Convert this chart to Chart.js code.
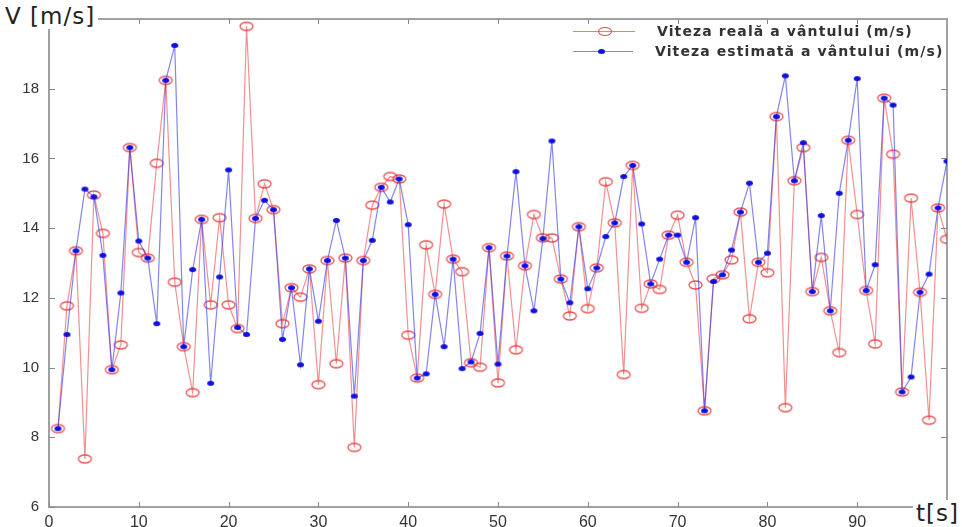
<!DOCTYPE html>
<html>
<head>
<meta charset="utf-8">
<script src="https://cdn.jsdelivr.net/npm/chart.js@4.4.1/dist/chart.umd.min.js"></script>
<style>
  html, body { margin: 0; padding: 0; background: #fff; }
  #wrap { position: relative; width: 962px; height: 527px; overflow: hidden; }
  #chart { position: absolute; left: 0; top: 0; }
  .axlabel { position: absolute; font-family: "DejaVu Sans", sans-serif; font-size: 23px; letter-spacing: 1px; color: #222; background: #fff; line-height: 26px; padding: 0 3px; }
  .leg { position: absolute; font-family: "DejaVu Sans", sans-serif; font-weight: bold; font-size: 14px; letter-spacing: 1.1px; color: #333; white-space: nowrap; }
  .legline { position: absolute; height: 1px; }
  .legmark { position: absolute; border-radius: 50%; box-sizing: border-box; }
</style>
</head>
<body>
<div id="wrap">
  <canvas id="chart" width="962" height="527"></canvas>
  <div class="axlabel" style="left:2px; top:3px;">V [m/s]</div>
  <div class="axlabel" style="left:913px; top:500px;">t[s]</div>

  <div class="legline" style="left:573px; top:31px; width:62px; background:rgba(230,70,70,0.7);"></div>
  <div class="legmark" style="left:598px; top:27px; width:14px; height:9px; border:1.3px solid rgba(230,60,60,0.9); background:transparent;"></div>
  <div class="leg" style="left:657px; top:23px;">Viteza reală a vântului (m/s)</div>

  <div class="legline" style="left:573px; top:51px; width:60px; background:rgba(50,50,230,0.6);"></div>
  <div class="legmark" style="left:598px; top:49px; width:7px; height:5px; background:#1010e0;"></div>
  <div class="leg" style="left:655px; top:43px;">Viteza estimată a vântului (m/s)</div>
</div>
<script>
// measured wind speed (red circles), t = 1..100
const realSpeed = [
  8.25, 11.77, 13.35, 7.38, 14.95, 13.85, 9.94, 10.65, 16.31, 13.3,
  13.14, 15.86, 18.24, 12.45, 10.6, 9.28, 14.25, 11.8, 14.3, 11.8,
  11.12, 19.79, 14.28, 15.27, 14.53, 11.26, 12.29, 12.02, 12.83, 9.51,
  13.07, 10.11, 13.14, 7.71, 13.07, 14.66, 15.17, 15.48, 15.41, 10.93,
  9.7, 13.52, 12.1, 14.69, 13.11, 12.75, 10.14, 10.01, 13.44, 9.56,
  13.2, 10.51, 12.92, 14.39, 13.72, 13.72, 12.54, 11.48, 14.04, 11.69,
  12.86, 15.33, 14.15, 9.8, 15.8, 11.7, 12.4, 12.24, 13.8, 14.37,
  13.02, 12.37, 8.76, 12.55, 12.66, 13.09, 14.46, 11.4, 13.02, 12.72,
  17.2, 8.85, 15.36, 16.31, 12.18, 13.16, 11.63, 10.43, 16.52, 14.39,
  12.21, 10.68, 17.73, 16.12, 9.3, 14.86, 12.16, 8.49, 14.58, 13.68
];

// estimated wind speed (blue dots)
const estSpeed = [
  8.25, 10.95, 13.35, 15.12, 14.9, 13.22, 9.94, 12.14, 16.31, 13.63,
  13.14, 11.26, 18.24, 19.24, 10.6, 12.81, 14.25, 9.55, 12.6, 15.67,
  11.15, 10.95, 14.28, 14.8, 14.53, 10.81, 12.29, 10.08, 12.83, 11.33,
  13.07, 14.22, 13.14, 9.18, 13.07, 13.65, 15.17, 14.75, 15.41, 14.1,
  9.7, 9.82, 12.1, 10.6, 13.11, 9.97, 10.16, 10.98, 13.44, 10.1,
  13.2, 15.62, 12.92, 11.63, 13.7, 16.5, 12.54, 11.86, 14.04, 12.26,
  12.86, 13.76, 14.15, 15.48, 15.8, 14.12, 12.4, 13.11, 13.8, 13.8,
  13.02, 14.3, 8.76, 12.47, 12.66, 13.37, 14.46, 15.29, 13.02, 13.28,
  17.2, 18.37, 15.36, 16.45, 12.18, 14.36, 11.63, 15.0, 16.52, 18.29,
  12.21, 12.95, 17.73, 17.53, 9.3, 9.73, 12.16, 12.68, 14.58, 15.92
];

const xTicks = [0, 10, 20, 30, 40, 50, 60, 70, 80, 90];
const yTicks = [6, 8, 10, 12, 14, 16, 18];

const toPoints = arr => arr.map((v, i) => ({ x: i + 1, y: v }));

// ellipse markers like the matlab export
function ellipseMarker(w, h, stroke, fill) {
  const c = document.createElement('canvas');
  c.width = w + 4; c.height = h + 4;
  const g = c.getContext('2d');
  g.beginPath();
  g.ellipse(c.width / 2, c.height / 2, w / 2, h / 2, 0, 0, Math.PI * 2);
  if (fill) { g.fillStyle = fill; g.fill(); }
  if (stroke) { g.strokeStyle = stroke; g.lineWidth = 1.3; g.stroke(); }
  return c;
}
const redRing = ellipseMarker(13, 8, 'rgba(230,55,55,0.85)', null);
const blueDot = ellipseMarker(7, 5, null, '#1010e0');

// box + inward tick marks on all four sides
const boxPlugin = {
  id: 'box',
  beforeDatasetsDraw(chart) {
    const { ctx, chartArea: a, scales } = chart;
    ctx.save();
    ctx.strokeStyle = '#a0a0a0';
    ctx.lineWidth = 2;
    ctx.strokeRect(a.left, a.top, a.right - a.left, a.bottom - a.top);
    ctx.lineWidth = 1;
    ctx.strokeStyle = '#888';
    ctx.beginPath();
    xTicks.forEach(t => {
      const px = Math.round(scales.x.getPixelForValue(t)) + 0.5;
      ctx.moveTo(px, a.bottom); ctx.lineTo(px, a.bottom - 5);
      ctx.moveTo(px, a.top); ctx.lineTo(px, a.top + 5);
    });
    yTicks.forEach(t => {
      const py = Math.round(scales.y.getPixelForValue(t)) + 0.5;
      ctx.moveTo(a.left, py); ctx.lineTo(a.left + 6, py);
      ctx.moveTo(a.right, py); ctx.lineTo(a.right - 6, py);
    });
    ctx.stroke();
    ctx.restore();
  }
};

new Chart(document.getElementById('chart'), {
  type: 'line',
  data: {
    datasets: [
      {
        label: 'Viteza estimată a vântului (m/s)',
        data: toPoints(estSpeed),
        borderColor: 'rgba(50,50,230,0.6)',
        borderWidth: 1.2,
        pointStyle: blueDot,
        tension: 0,
        order: 0
      },
      {
        label: 'Viteza reală a vântului (m/s)',
        data: toPoints(realSpeed),
        borderColor: 'rgba(235,70,70,0.6)',
        borderWidth: 1.2,
        pointStyle: redRing,
        tension: 0,
        order: 1
      }
    ]
  },
  options: {
    responsive: false,
    animation: false,
    layout: { padding: { top: 13, right: 15, left: 0, bottom: 0 } },
    plugins: { legend: { display: false }, tooltip: { enabled: false } },
    scales: {
      x: {
        type: 'linear', min: 0, max: 100,
        afterFit: s => { s.height = 20; },
        afterBuildTicks: s => { s.ticks = xTicks.map(v => ({ value: v })); },
        grid: { display: false, drawTicks: false },
        border: { display: false },
        ticks: { padding: 6, color: '#333', font: { family: 'Liberation Sans', size: 16 }, maxRotation: 0 }
      },
      y: {
        min: 6, max: 20,
        afterFit: s => { s.width = 49; },
        afterBuildTicks: s => { s.ticks = yTicks.map(v => ({ value: v })); },
        grid: { display: false, drawTicks: false },
        border: { display: false },
        ticks: { padding: 10, color: '#333', font: { family: 'Liberation Sans', size: 15 } }
      }
    }
  },
  plugins: [boxPlugin]
});
</script>
</body>
</html>
